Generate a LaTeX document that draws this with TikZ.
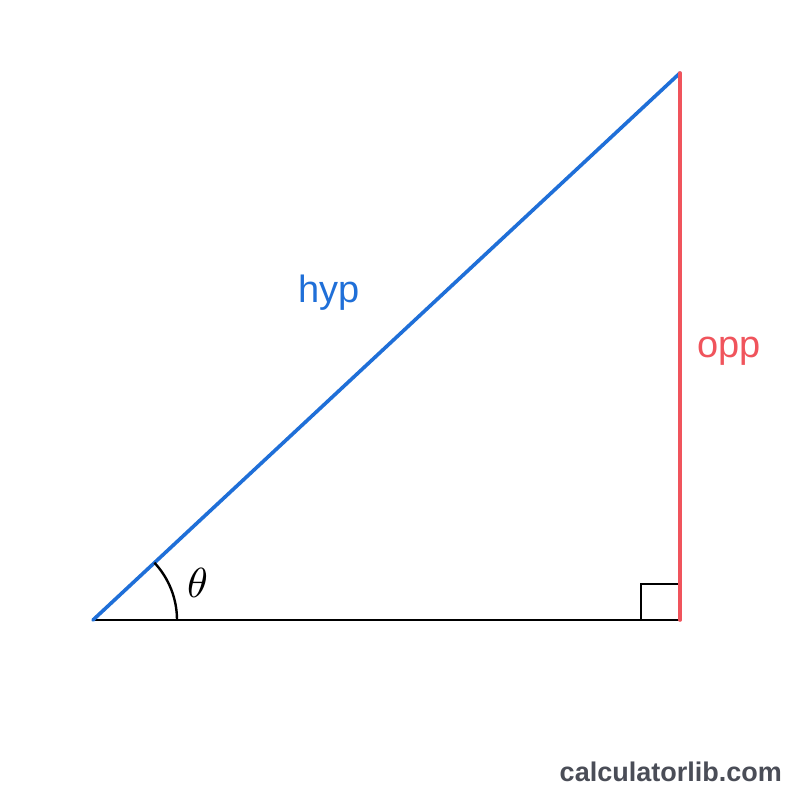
\documentclass[tikz,border=0pt]{standalone}
\usepackage{fontspec}
\setmainfont{Liberation Sans}
\usepackage{unicode-math}
\setmathfont{Latin Modern Math}
\definecolor{hypblue}{HTML}{1F6FD8}
\definecolor{oppred}{HTML}{F0545C}
\definecolor{wmgray}{HTML}{4A4D57}
\tikzset{
  side/.style={line width=3.6pt, line cap=round},
  lbl/.style={inner sep=0pt, anchor=base, font=\fontsize{38}{40}\selectfont},
}
\begin{document}
\begin{tikzpicture}[x=1pt,y=-1pt]
\useasboundingbox (0,0) rectangle (800,800);
\fill[white] (0,0) rectangle (800,800);
\coordinate (A) at (93,620);
\coordinate (B) at (680,620);
\coordinate (C) at (680,73);
\draw[line width=2.8pt] (A) -- (B);
\draw[line width=2.6pt] (641,620) -- (641,584) -- (680,584);
\draw[side, hypblue] (A) -- (C);
\draw[side, oppred] (B) -- (C);
\draw[line width=2.4pt] ([shift={(84,0)}]A) arc[start angle=0, end angle=-43, radius=84];
\node[lbl, hypblue] (hyp) at (329,302) {hyp};
\node[lbl, oppred] (opp) at (729,357) {opp};
\node[inner sep=0pt, font=\fontsize{42}{44}\selectfont] (theta) at (198,583) {$\theta$};
\node[inner sep=0pt, anchor=east, wmgray, font=\bfseries\fontsize{27}{30}\selectfont] (wm) at (782,772) {calculatorlib.com};
\end{tikzpicture}
\end{document}
